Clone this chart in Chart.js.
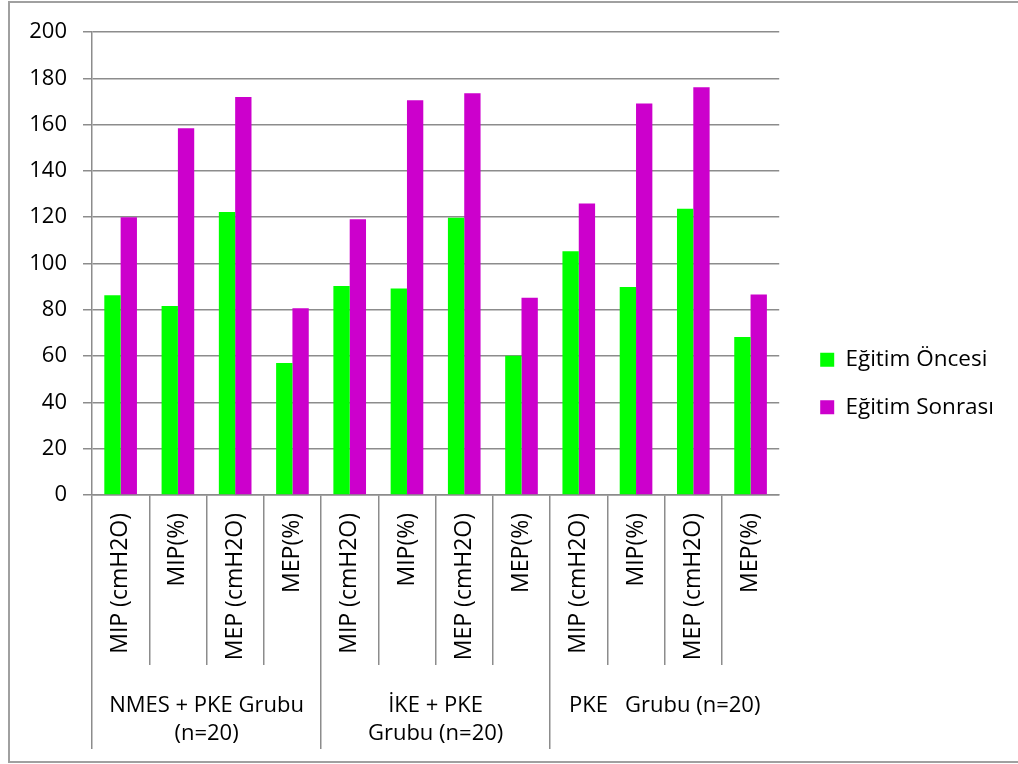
<!DOCTYPE html>
<html>
<head>
<meta charset="utf-8">
<script src="https://cdn.jsdelivr.net/npm/chart.js@4.4.1/dist/chart.umd.min.js"></script>
<style>
  html, body { margin: 0; padding: 0; background: #ffffff; }
  #wrap { width: 1018px; height: 764px; position: relative; }
</style>
</head>
<body>
<div id="wrap"><canvas id="chart" width="1018" height="764"></canvas></div>
<script>
// Measurements shown for each training group
const measures = [
  'MIP (cmH2O)', 'MIP(%)', 'MEP (cmH2O)', 'MEP(%)',
  'MIP (cmH2O)', 'MIP(%)', 'MEP (cmH2O)', 'MEP(%)',
  'MIP (cmH2O)', 'MIP(%)', 'MEP (cmH2O)', 'MEP(%)'
];
// Group captions under the measurement labels
const groups = [
  ['NMES + PKE Grubu', '(n=20)'],
  ['İKE + PKE', 'Grubu (n=20)'],
  'PKE   Grubu (n=20)'
];
const seriesNames = ['Eğitim Öncesi', 'Eğitim Sonrası'];
const beforeTraining = [86.3, 81.6, 122.3, 57.0, 90.3, 89.2, 119.8, 60.1, 105.3, 89.8, 123.6, 68.3];
const afterTraining = [120.0, 158.4, 171.9, 80.7, 119.1, 170.5, 173.5, 85.2, 125.9, 169.1, 176.1, 86.6];

const GRID = '#8c8c8c';
const FONT = 'Open Sans';

// Hide the closing separator on the far right of the category axes
const separatorColor = (ctx) => (ctx.type === 'tick' ? GRID : 'rgba(0,0,0,0)');

const frame = {
  id: 'frame',
  beforeDraw(chart) {
    const c = chart.ctx;
    c.save();
    c.fillStyle = '#ffffff';
    c.fillRect(0, 0, chart.width, chart.height);
    c.strokeStyle = '#a0a0a0';
    c.lineWidth = 2;
    c.strokeRect(9, 2, chart.width + 20, 760);
    c.restore();
  },
  afterLayout(chart) {
    // legend sits a little away from the plot, centred on the frame
    const lg = chart.legend;
    if (lg) {
      lg.left += 16; lg.right += 16;
      lg.top -= 7; lg.bottom -= 7;
    }
  }
};

new Chart(document.getElementById('chart'), {
  type: 'bar',
  data: {
    labels: measures,
    datasets: [
      { label: seriesNames[0], data: beforeTraining, backgroundColor: '#00ff00', borderWidth: 0 },
      { label: seriesNames[1], data: afterTraining, backgroundColor: '#cc00cc', borderWidth: 0 }
    ]
  },
  options: {
    responsive: false,
    animation: false,
    devicePixelRatio: 1,
    layout: { padding: { top: 32, right: 30, bottom: 15, left: 0 } },
    categoryPercentage: 0.57,
    barPercentage: 1.0,
    plugins: {
      tooltip: { enabled: false },
      legend: {
        position: 'right',
        align: 'center',
        labels: {
          boxWidth: 14,
          boxHeight: 14,
          padding: 25,
          color: '#000000',
          font: { family: FONT, size: 22.5 }
        }
      }
    },
    scales: {
      y: {
        min: 0,
        max: 200,
        ticks: {
          stepSize: 20,
          color: '#000000',
          padding: 16,
          font: { family: FONT, size: 22 }
        },
        grid: { color: GRID, lineWidth: 1.5, tickLength: 9 },
        border: { color: GRID, width: 1.5 },
        afterFit(scale) { scale.width = 92; }
      },
      x: {
        offset: true,
        ticks: {
          autoSkip: false,
          minRotation: 90,
          maxRotation: 90,
          color: '#000000',
          padding: -152,
          font: { family: FONT, size: 23 }
        },
        grid: {
          offset: true,
          drawOnChartArea: false,
          tickLength: 170,
          lineWidth: 1.5,
          color: separatorColor
        },
        border: { color: GRID, width: 1.5 },
        afterFit(scale) { scale.height = 170; }
      },
      x2: {
        type: 'category',
        labels: groups,
        position: 'bottom',
        offset: true,
        ticks: {
          autoSkip: false,
          maxRotation: 0,
          minRotation: 0,
          color: '#000000',
          padding: -58,
          font: { family: FONT, size: 22, lineHeight: 1.3 }
        },
        grid: {
          offset: true,
          drawOnChartArea: false,
          tickLength: 84,
          lineWidth: 1.5,
          color: separatorColor
        },
        border: { display: false },
        afterFit(scale) { scale.height = 84; }
      }
    }
  },
  plugins: [frame]
});
</script>
</body>
</html>
